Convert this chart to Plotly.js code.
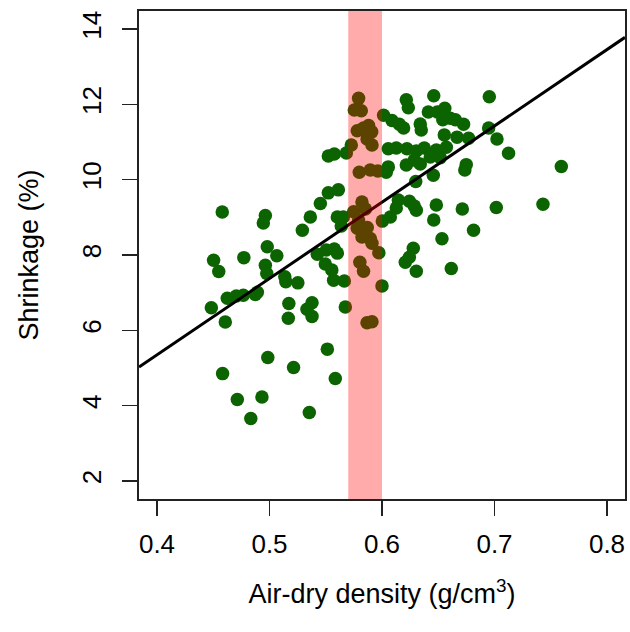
<!DOCTYPE html>
<html>
<head>
<meta charset="utf-8">
<script src="https://cdn.plot.ly/plotly-3.0.1.min.js"></script>
<style>html,body{margin:0;padding:0;background:#fff;}#chart{width:630px;height:632px;}</style>
</head>
<body>
<div id="chart"></div>
<script>
// Air-dry density (g/cm3)
const density = [
0.4483,0.4503,0.4549,0.4580,0.4607,0.4583,0.4625,0.4705,0.4767,0.4714,
0.4772,0.4834,0.4874,0.4892,0.4933,0.4963,0.4945,0.4980,0.4963,0.4976,
0.5065,0.4985,0.5136,0.5145,0.5252,0.5172,0.5167,0.5214,0.5292,0.5363,
0.5333,0.5378,0.5378,0.5354,0.5452,0.5425,0.5496,0.5554,0.5523,0.5612,
0.5523,0.5576,0.5683,0.5727,0.5505,0.5576,0.5603,0.5570,0.5665,0.5674,
0.5514,0.5585,0.5603,0.5656,0.5638,
0.5792,0.5754,0.5816,0.5780,0.5836,0.5881,0.5909,0.5867,0.5911,0.5798,
0.5896,0.5963,0.5822,0.5852,0.5748,0.5792,0.5780,0.5869,0.5896,0.5911,
0.5822,0.5972,0.5803,0.5836,0.6000,0.5867,0.5911,
0.6014,0.6089,0.6154,0.6192,0.6216,0.6234,0.6460,0.6412,0.6492,0.6558,
0.6540,0.6607,0.6652,0.6725,0.6340,0.6349,0.6554,0.6667,0.6770,0.6948,
0.6954,0.7022,0.7125,0.7594,0.6056,0.6127,0.6222,0.6305,0.6376,0.6483,
0.6572,0.6056,0.6038,0.6216,0.6287,0.6340,0.6429,0.6518,0.6456,0.6300,
0.6749,0.6736,0.6003,0.6074,0.6127,0.6145,0.6243,0.6287,0.6305,0.6483,
0.6460,0.6533,0.6714,0.7016,0.7431,0.6814,0.6278,0.6207,0.6243,0.6305,
0.6616
];
// Shrinkage (%)
const shrinkage = [
6.60,7.86,7.56,9.14,6.22,4.85,6.85,6.91,6.93,4.16,
7.93,3.66,6.95,7.01,4.23,9.05,8.85,8.22,7.73,7.51,
7.98,5.28,7.42,7.29,7.26,6.71,6.32,5.01,8.66,9.01,
6.56,6.73,6.37,3.82,9.37,8.02,7.76,7.60,9.65,9.73,
10.63,10.68,10.71,10.92,8.13,8.16,8.05,7.33,7.31,6.62,
5.50,4.72,9.01,9.01,8.77,
12.16,11.85,11.83,11.30,11.37,11.44,11.27,11.08,10.92,10.20,
10.26,10.23,9.41,9.22,9.15,8.93,8.71,8.73,8.44,8.31,
8.48,8.06,7.81,7.57,7.18,6.20,6.23,
11.71,11.57,11.47,11.37,12.12,11.91,12.23,11.80,11.80,11.90,
11.59,11.63,11.59,11.47,11.48,11.32,11.19,11.13,11.10,11.37,
12.20,11.08,10.70,10.35,10.82,10.84,10.82,10.76,10.84,10.79,
10.86,10.34,10.20,10.39,10.52,10.42,10.60,10.58,10.12,9.95,
10.40,10.26,8.90,9.01,9.25,9.46,9.43,9.30,9.19,9.33,
8.93,8.43,9.22,9.26,9.35,8.66,8.18,7.81,7.94,7.57,
7.64
];
// fitted regression line: shrinkage = intercept + slope * density
const intercept = -2.76;
const slope = 20.27;
// highlighted density band
const bandLow = 0.57;
const bandHigh = 0.60;
// axis limits and ticks
const xLimits = [0.4, 0.8];
const yLimits = [2, 14];
const xTicks = [0.4, 0.5, 0.6, 0.7, 0.8];
const yTicks = [2, 4, 6, 8, 10, 12, 14];

const ext = (lim) => { const d = (lim[1] - lim[0]) * 0.04; return [lim[0] - d, lim[1] + d]; };
const xRange = ext(xLimits);
const yRange = ext(yLimits);

const fitX = [xRange[0], xRange[1]];
const fitY = fitX.map(v => intercept + slope * v);

const font = "Liberation Sans, Arial, Helvetica, sans-serif";

const traces = [
  {
    type: 'scatter', mode: 'markers', x: density, y: shrinkage,
    marker: {color: '#0c6400', size: 13.5, line: {width: 0}},
    hoverinfo: 'skip', showlegend: false
  },
  {
    type: 'scatter', mode: 'lines', x: fitX, y: fitY,
    line: {color: '#000', width: 3}, hoverinfo: 'skip', showlegend: false
  }
];

const layout = {
  width: 630, height: 632,
  margin: {l: 139, r: 5, t: 11, b: 133},
  paper_bgcolor: '#fff', plot_bgcolor: '#fff',
  font: {family: font, color: '#000', size: 26},
  showlegend: false,
  xaxis: {
    range: xRange, tickvals: xTicks, ticktext: xTicks.map(v => v.toFixed(1)),
    ticks: 'outside', ticklen: 15, tickwidth: 1.5, tickcolor: '#222',
    showline: true, linecolor: '#222', linewidth: 2, mirror: true,
    showgrid: false, zeroline: false,
    tickfont: {family: font, size: 26, color: '#000'},
    ticklabelstandoff: 6,
    title: {text: 'Air-dry density (g/cm<sup>3</sup>)', font: {family: font, size: 27, color: '#000'}, standoff: 26}
  },
  yaxis: {
    range: yRange, tickvals: yTicks, ticktext: yTicks.map(String),
    ticks: 'outside', ticklen: 15, tickwidth: 1.5, tickcolor: '#222',
    showline: true, linecolor: '#222', linewidth: 2, mirror: true,
    showgrid: false, zeroline: false, tickangle: -90,
    tickfont: {family: font, size: 26, color: '#000'},
    ticklabelstandoff: 11,
    title: {text: 'Shrinkage (%)', font: {family: font, size: 27, color: '#000'}, standoff: 30}
  },
  shapes: [{
    type: 'rect', xref: 'x', yref: 'paper', x0: bandLow, x1: bandHigh, y0: 0, y1: 1,
    fillcolor: 'rgba(255,0,0,0.33)', line: {width: 0}, layer: 'above'
  }]
};

Plotly.newPlot('chart', traces, layout, {staticPlot: true, displayModeBar: false});
</script>
</body>
</html>
